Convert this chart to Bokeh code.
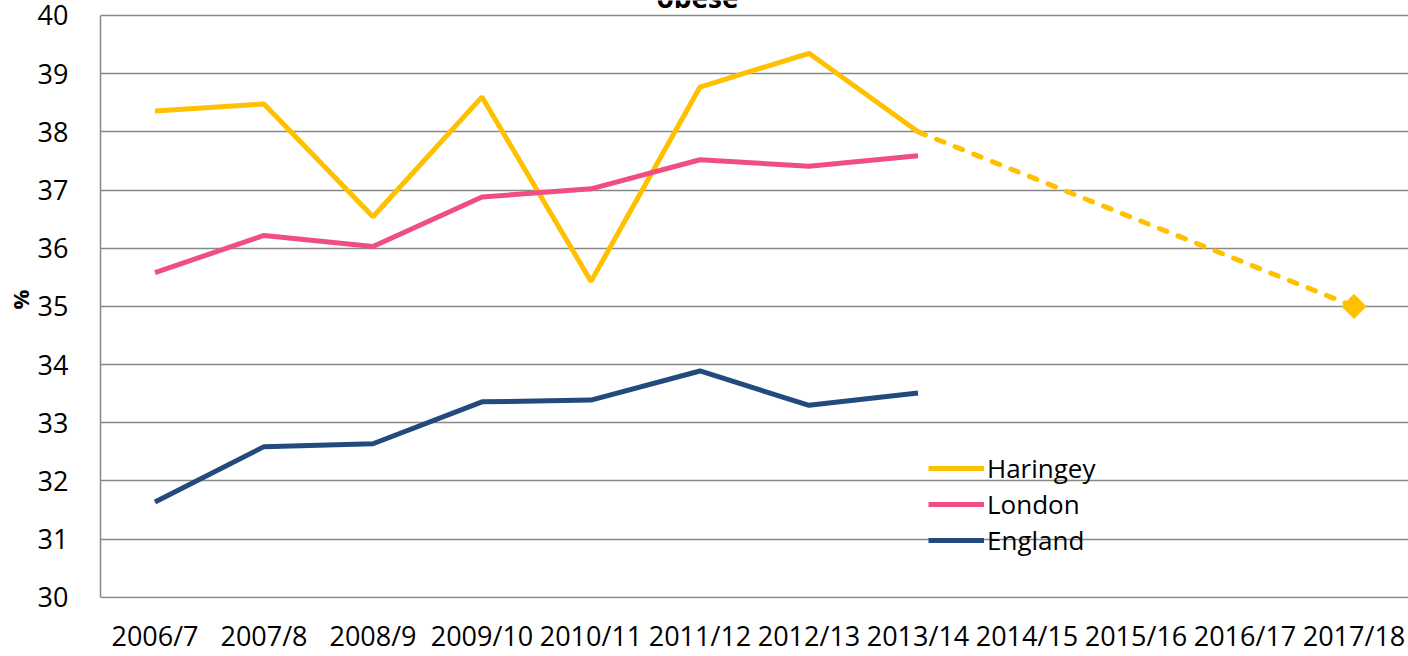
from bokeh.plotting import figure
from bokeh.models import Range1d, FactorRange, FixedTicker, Legend, LegendItem, Label
from bokeh.embed import file_html
from bokeh.resources import INLINE

years = ["2006/7", "2007/8", "2008/9", "2009/10", "2010/11", "2011/12", "2012/13",
         "2013/14", "2014/15", "2015/16", "2016/17", "2017/18"]
obs_years = years[:8]
haringey = [38.36, 38.48, 36.54, 38.60, 35.43, 38.77, 39.35, 38.00]
london = [35.58, 36.22, 36.03, 36.88, 37.02, 37.52, 37.41, 37.59]
england = [31.64, 32.59, 32.64, 33.36, 33.39, 33.89, 33.30, 33.51]
target_years = ["2013/14", "2017/18"]
target_vals = [38.00, 35.00]
y_ticks = [30, 31, 32, 33, 34, 35, 36, 37, 38, 39, 40]

FONT = "Open Sans"
C_HAR = "#FFC000"
C_LON = "#F04E83"
C_ENG = "#234A7C"
GRID = "#888888"

# frame reaches the top edge; the extra headroom above 40 holds the clipped title
p = figure(width=1408, height=656, x_range=FactorRange(*years), y_range=Range1d(29.98, 40.257),
           output_backend="svg", toolbar_location=None,
           min_border_left=100, min_border_right=0, min_border_top=0, min_border_bottom=57)
p.outline_line_color = None
p.xgrid.grid_line_color = None
p.ygrid.grid_line_color = GRID
p.ygrid.grid_line_width = 1.5
p.yaxis.ticker = FixedTicker(ticks=y_ticks)
p.yaxis.bounds = (30, 40)
p.yaxis.axis_line_color = GRID
p.yaxis.axis_line_width = 1.5
p.yaxis.major_tick_line_color = None
p.yaxis.minor_tick_line_color = None
p.yaxis.major_label_standoff = 26
p.yaxis.axis_label = "%"
p.yaxis.axis_label_text_font = FONT
p.yaxis.axis_label_text_font_size = "22px"
p.yaxis.axis_label_text_font_style = "bold"
p.yaxis.axis_label_text_color = "#000000"
p.yaxis.axis_label_standoff = 0
p.xaxis.axis_line_color = None
p.xaxis.major_tick_line_color = None
p.xaxis.minor_tick_line_color = None
p.xaxis.major_label_standoff = 12
for ax in (p.xaxis, p.yaxis):
    ax.major_label_text_font = FONT
    ax.major_label_text_font_size = "27px"
    ax.major_label_text_color = "#000000"

r_har = p.line(obs_years, haringey, line_color=C_HAR, line_width=5)
p.line(target_years, target_vals, line_color=C_HAR, line_width=5, line_dash="8 12", line_cap="round")
p.scatter(target_years[1:], target_vals[1:], marker="square", angle=0.785, size=17,
          fill_color=C_HAR, line_color=C_HAR)
r_lon = p.line(obs_years, london, line_color=C_LON, line_width=5)
r_eng = p.line(obs_years, england, line_color=C_ENG, line_width=5)

legend = Legend(items=[LegendItem(label="Haringey", renderers=[r_har]),
                       LegendItem(label="London", renderers=[r_lon]),
                       LegendItem(label="England", renderers=[r_eng])],
                location=(828, 40), background_fill_alpha=0, border_line_color=None,
                label_text_font=FONT, label_text_font_size="26px", label_text_color="#000000",
                glyph_width=56, glyph_height=36, label_height=36, spacing=0, padding=0,
                margin=0, label_standoff=3)
p.add_layout(legend, "center")

title = Label(x=597, y=40.31, x_units="screen", y_units="data", text="obese",
              text_font=FONT, text_font_size="28px", text_font_style="bold",
              text_color="#000000", text_align="center", text_baseline="alphabetic")
p.add_layout(title)

open("out.html", "w").write(file_html(p, INLINE))
